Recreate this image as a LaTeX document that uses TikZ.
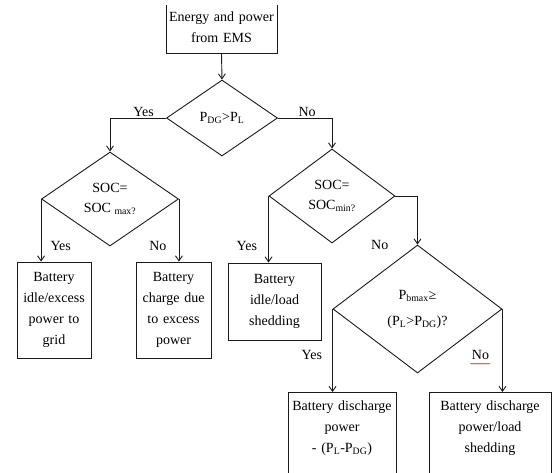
\documentclass[tikz,border=0pt]{standalone}
\usepackage{fontspec}
\setmainfont{Liberation Serif}
\usetikzlibrary{shapes.geometric,arrows.meta,decorations.pathmorphing}
\definecolor{flowline}{HTML}{1A1A1A}
\definecolor{spellred}{HTML}{E03030}
\tikzset{
  flowbox/.style={draw=flowline, line width=0.9pt, align=center, inner xsep=1pt, inner ysep=0pt, font=\fontsize{14}{21}\selectfont},
  decision/.style={diamond, draw=flowline, line width=0.9pt, align=center, inner sep=0pt, font=\fontsize{14}{20}\selectfont},
  flowarrow/.style={draw=flowline, line width=0.9pt, -{Straight Barb[length=5pt,width=7pt]}},
  answer/.style={inner sep=1pt, font=\fontsize{14}{16}\selectfont}
}

\begin{document}
\begin{tikzpicture}[x=10pt,y=-10pt]
        \useasboundingbox (0,0) rectangle (55.2,47.2);
        \clip (0,0.5) rectangle (55.2,47.2);
        % Input from EMS
        \node[flowbox, minimum height=52pt, text width=109pt] (ems) at (22.15,2.7) {Energy and power\\from EMS};
        % Decisions
        \node[decision, minimum width=111pt, minimum height=76pt] (gen) at (22.2,11.8) {P\textsubscript{DG}>P\textsubscript{L}};
        \node[decision, minimum width=137pt, minimum height=94pt] (socmax) at (11.0,19.9) {SOC=\\SOC \textsubscript{max?}};
        \node[decision, minimum width=126pt, minimum height=94pt] (socmin) at (33.2,19.6) {SOC=\\SOC\textsubscript{min?}};
        \node[decision, minimum width=169pt, minimum height=128pt] (pbmax) at (41.75,30.9) {P\textsubscript{bmax}≥\\[6pt](P\textsubscript{L}>P\textsubscript{DG})?};
        % Battery actions
        \node[flowbox, minimum height=96pt, text width=72pt] (idlegrid) at (5.4,31.0) {Battery\\idle/excess\\power to\\grid};
        \node[flowbox, minimum height=96pt, text width=73pt] (charge) at (17.35,31.0) {Battery\\charge due\\to excess\\power};
        \node[flowbox, minimum height=77pt, text width=91pt] (idleshed) at (27.45,30.15) {Battery\\idle/load\\shedding};
        \node[flowbox, anchor=north, inner ysep=8pt, text width=106pt, text depth=80pt] (dischg) at (34.2,39.2) {Battery discharge\\power\\- (P\textsubscript{L}-P\textsubscript{DG})};
        \node[flowbox, anchor=north, inner ysep=8pt, text width=120pt, text depth=80pt] (dischshed) at (49.0,39.2) {Battery discharge\\power/load\\shedding};
        % Connectors
        \draw[flowarrow] (ems.south) -- (gen.north);
        \draw[flowarrow] (gen.west) -| (socmax.north) node[answer, above, pos=0.2] (yes1) {Yes};
        \draw[flowarrow] (gen.east) -| (socmin.north) node[answer, above, pos=0.27] (no1) {No};
        \draw[flowarrow] (socmax.west) -- (socmax.west |- idlegrid.north) node[answer, right=8pt, pos=0.75] (yes2) {Yes};
        \draw[flowarrow] (socmax.east) -- (socmax.east |- charge.north) node[answer, left=11pt, pos=0.75] (no2) {No};
        \draw[flowarrow] (socmin.west) -- (socmin.west |- idleshed.north) node[answer, left=10pt, pos=0.75] (yes3) {Yes};
        \draw[flowarrow] (socmin.east) -| (pbmax.north);
        \node[answer, left=28pt] (no3) at (pbmax.north) {No};
        \draw[flowarrow] (pbmax.west) -- (pbmax.west |- dischg.north) node[answer, left=9pt, pos=0.55] (yes4) {Yes};
        \draw[flowarrow] (pbmax.east) -- (pbmax.east |- dischshed.north) node[answer, left=12pt, pos=0.55] (no4) {No};
        % spell-check mark under the last answer
        \draw[spellred, line width=0.5pt, decorate, decoration={snake, amplitude=0.5pt, segment length=2pt}] ([yshift=-3pt]no4.south west) -- ([yshift=-3pt]no4.south east);
    \end{tikzpicture}
\end{document}
